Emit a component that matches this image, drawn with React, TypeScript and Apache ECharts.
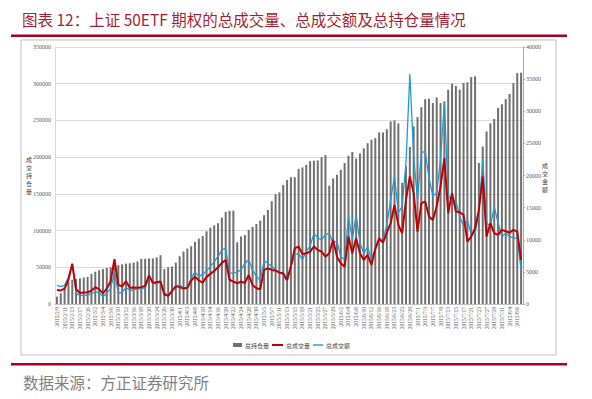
import React, { useEffect, useRef } from "react";
import * as echarts from "echarts";

const year = 2015;
const febDays = [9, 10, 11, 12, 13, 16, 17, 25, 26, 27];
const marDays = [2, 3, 4, 5, 6, 9, 10, 11, 12, 13, 16, 17, 18, 19, 20, 23, 24, 25, 26, 27, 30, 31];
const aprDays = [1, 2, 3, 7, 8, 9, 10, 13, 14, 15, 16, 17, 20, 21, 22, 23, 24, 27, 28, 29, 30];
const mayDays = [4, 5, 6, 7, 8, 11, 12, 13, 14, 15, 18, 19, 20, 21, 22, 25, 26, 27, 28, 29];
const junDays = [1, 2, 3, 4, 5, 8, 9, 10, 11, 12, 15, 16, 17, 18, 19, 23, 24, 25, 26, 29, 30];
const julDays = [1, 2, 3, 6, 7, 8, 9, 10, 13, 14, 15, 16, 17, 20, 21, 22, 23, 24, 27, 28, 29, 30, 31];
const augDays = [3, 4, 5, 6, 7];

// 总持仓量 (left axis)
const openInterest = [
  10000, 14500, 23000, 30000, 33000, 34000, 35000, 36000, 37000, 41000,
  44000, 46000, 47500, 49000, 50000, 51500, 53000, 54000, 55000, 55500,
  56500, 58000, 61500, 61500, 62000, 62000, 63500, 66500, 47500, 50000,
  51000, 56500, 65000, 71500, 75500, 78700, 84600, 89000, 92700, 99000,
  104000, 107000, 110000, 117700, 125400, 127000, 127000, 84000, 92000, 94000,
  101000, 105000, 109000, 113600, 121000, 128000, 140000, 149500, 152000, 162000,
  169000, 172700, 172700, 184000, 186000, 189500, 194500, 195000, 195500, 200000,
  202700, 161000, 171000, 176000, 182700, 192000, 202000, 207000, 198000, 205000,
  212000, 219000, 223600, 226000, 233600, 233600, 238000, 248600, 250000, 246000,
  165000, 188000, 214000, 241800, 254500, 268000, 279000, 279500, 273600, 281300,
  273600, 276000, 291800, 300000, 297000, 291800, 301000, 301800, 309000, 310000,
  192000, 214500, 235000, 246000, 252000, 267000, 272000, 279000, 286000, 301000,
  314500, 315000,
];

// 总成交量 (left axis)
const volume = [
  19000, 18500, 21000, 33000, 55000, 20000, 15000, 15500, 16000, 18000,
  23000, 20000, 14500, 21000, 31000, 61000, 26000, 24000, 31000, 22000,
  22500, 22000, 23000, 24500, 39000, 29000, 29500, 30500, 13000, 11000,
  18000, 24000, 23000, 21000, 22000, 32000, 37000, 32000, 29000, 37000,
  41000, 45000, 50000, 56000, 60000, 33000, 30400, 28200, 30400, 29000,
  39500, 25900, 21400, 20000, 46400, 48600, 46400, 45500, 42700, 41800,
  32700, 51800, 75900, 78200, 68200, 69100, 71400, 78200, 73600, 71400,
  64500, 69100, 87300, 64500, 55400, 50900, 91800, 69100, 89500, 69100,
  60000, 66800, 53200, 75000, 89500, 83600, 97300, 110000, 135000, 107700,
  96400, 141800, 173600, 151000, 98600, 137300, 139500, 119000, 114500, 132700,
  160000, 198600, 123600, 151000, 125900, 125000, 121400, 85000, 91800, 103200,
  128200, 173600, 91800, 110000, 96400, 94100, 100900, 99000, 97000, 101000,
  98600, 60000,
];

// 总成交额 (right axis)
const turnover = [
  2900, 2700, 2900, 4200, 6200, 1700, 1300, 1350, 1400, 1600,
  1900, 1800, 1100, 1700, 2400, 5000, 1700, 1800, 2600, 2100,
  2200, 2300, 2400, 2500, 4300, 3200, 3100, 3600, 1800, 1300,
  2000, 2900, 2900, 2600, 2500, 4000, 5000, 4300, 4600, 5200,
  5800, 6600, 7400, 8400, 8700, 4800, 4800, 5000, 5300, 6300,
  6900, 5300, 4300, 3700, 6800, 6300, 5900, 5300, 5000, 4500,
  3500, 5800, 7700, 7900, 6900, 8200, 9000, 11000, 10300, 10000,
  10800, 11000, 9500, 9800, 7400, 6900, 13600, 10000, 13900, 9500,
  7900, 8900, 6900, 8600, 9700, 10000, 12300, 16200, 19900, 14200,
  15200, 22000, 35800, 23000, 16200, 23500, 23800, 19600, 16800, 17300,
  22500, 31300, 16800, 16200, 16000, 13600, 12100, 13100, 10800, 11000,
  14200, 22500, 12600, 12100, 15200, 12600, 10500, 11000, 10500, 10300,
  10300, 5300,
];

const monthDays: [number, number[]][] = [
  [2, febDays], [3, marDays], [4, aprDays], [5, mayDays], [6, junDays], [7, julDays], [8, augDays],
];
const categories: string[] = [];
monthDays.forEach(([m, days]) => days.forEach((d) => categories.push(`${year}/${m}/${d}`)));

const seriesNames = ["总持仓量", "总成交量", "总成交额"];
const seriesColors = ["#6F6F6F", "#C00000", "#1E9BD7"];
const titleText = "图表 12：上证 50ETF 期权的总成交量、总成交额及总持仓量情况";
const sourceText = "数据来源：方正证券研究所";
const leftAxisTitle = "成交持仓量";
const rightAxisTitle = "成交金额";

export default function App() {
  const ref = useRef<HTMLDivElement>(null);
  useEffect(() => {
    if (!ref.current) return;
    const chart = echarts.init(ref.current, null, { renderer: "svg" });
    const cjk = "'Noto Sans CJK SC', sans-serif";
    const axisText = {
      fontSize: 6,
      color: "#595959",
      fontFamily: "'Liberation Serif', serif",
      formatter: (v: number) => String(v),
    };

    const stacked = (txt: string, x: number, y0: number, step: number) =>
      txt.split("").map((ch, k) => ({
        type: "text",
        x,
        y: y0 + k * step,
        style: {
          text: ch,
          fontSize: 6,
          lineHeight: 6,
          fill: "#404040",
          fontFamily: cjk,
          align: "center",
          verticalAlign: "middle",
        },
      }));

    // manual legend (line-only icons like the reference)
    const legendY = 345;
    const legendItems = [
      { icon: { x: 233, y: legendY - 2, width: 9, height: 4 }, tx: 245 },
      { icon: { x: 272, y: legendY - 1, width: 11, height: 2 }, tx: 286 },
      { icon: { x: 313, y: legendY - 0.7, width: 10, height: 1.4 }, tx: 326 },
    ];
    const legendGraphics: any[] = [];
    legendItems.forEach((it, k) => {
      legendGraphics.push({ type: "rect", shape: it.icon, style: { fill: seriesColors[k] } });
      legendGraphics.push({
        type: "text",
        x: it.tx,
        y: legendY,
        style: { text: seriesNames[k], fontSize: 6, fill: "#404040", fontFamily: cjk, verticalAlign: "middle" },
      });
    });

    chart.setOption({
      animation: false,
      backgroundColor: "#ffffff",
      textStyle: { fontFamily: cjk },
      grid: { left: 55, right: 69, top: 47, bottom: 95 },
      xAxis: {
        type: "category",
        data: categories,
        boundaryGap: true,
        axisLine: { lineStyle: { color: "#BFBFBF" } },
        axisTick: { show: false },
        axisLabel: {
          fontSize: 5.5,
          color: "#595959",
          fontFamily: "'Liberation Serif', serif",
          rotate: 90,
          interval: 1,
          margin: 3,
        },
      },
      yAxis: [
        {
          type: "value",
          min: 0,
          max: 350000,
          interval: 50000,
          axisLine: { show: true, lineStyle: { color: "#D9D9D9" } },
          axisTick: { show: false },
          splitLine: { lineStyle: { color: "#D9D9D9", width: 1 } },
          axisLabel: { ...axisText, margin: 4 },
        },
        {
          type: "value",
          min: 0,
          max: 40000,
          interval: 5000,
          axisLine: { show: true, lineStyle: { color: "#A6A6A6" } },
          axisTick: { show: true, length: 2, lineStyle: { color: "#A6A6A6" } },
          splitLine: { show: false },
          axisLabel: { ...axisText, margin: 3 },
        },
      ],
      series: [
        {
          name: seriesNames[0],
          type: "bar",
          data: openInterest,
          barWidth: "52%",
          itemStyle: { color: seriesColors[0] },
          z: 2,
        },
        {
          name: seriesNames[1],
          type: "line",
          yAxisIndex: 0,
          data: volume,
          symbol: "none",
          lineStyle: { color: seriesColors[1], width: 2 },
          itemStyle: { color: seriesColors[1] },
          z: 4,
        },
        {
          name: seriesNames[2],
          type: "line",
          yAxisIndex: 1,
          data: turnover,
          symbol: "none",
          lineStyle: { color: seriesColors[2], width: 1.3 },
          itemStyle: { color: seriesColors[2] },
          z: 3,
        },
      ],
      graphic: [
        {
          type: "text",
          x: 22,
          y: 19,
          style: { text: titleText, fontSize: 15.5, fill: "#A31F34", fontFamily: cjk, verticalAlign: "middle" },
        },
        { type: "rect", shape: { x: 11, y: 34.5, width: 556, height: 2.5 }, style: { fill: "#A50021" } },
        {
          type: "rect",
          shape: { x: 21, y: 40, width: 535, height: 315 },
          style: { fill: "none", stroke: "#BFBFBF", lineWidth: 1 },
          z: -1,
        },
        { type: "rect", shape: { x: 11, y: 363, width: 556, height: 2.5 }, style: { fill: "#A50021" } },
        {
          type: "text",
          x: 23,
          y: 381.5,
          style: { text: sourceText, fontSize: 15.5, fill: "#7F7F7F", fontFamily: cjk, verticalAlign: "middle" },
        },
        ...stacked(leftAxisTitle, 29, 159, 8),
        ...stacked(rightAxisTitle, 545, 165, 8),
        ...legendGraphics,
      ],
    });
    return () => chart.dispose();
  }, []);
  return (
    <div
      ref={ref}
      style={{ position: "fixed", left: 0, top: 0, width: 592, height: 399, background: "#fff" }}
    />
  );
}
